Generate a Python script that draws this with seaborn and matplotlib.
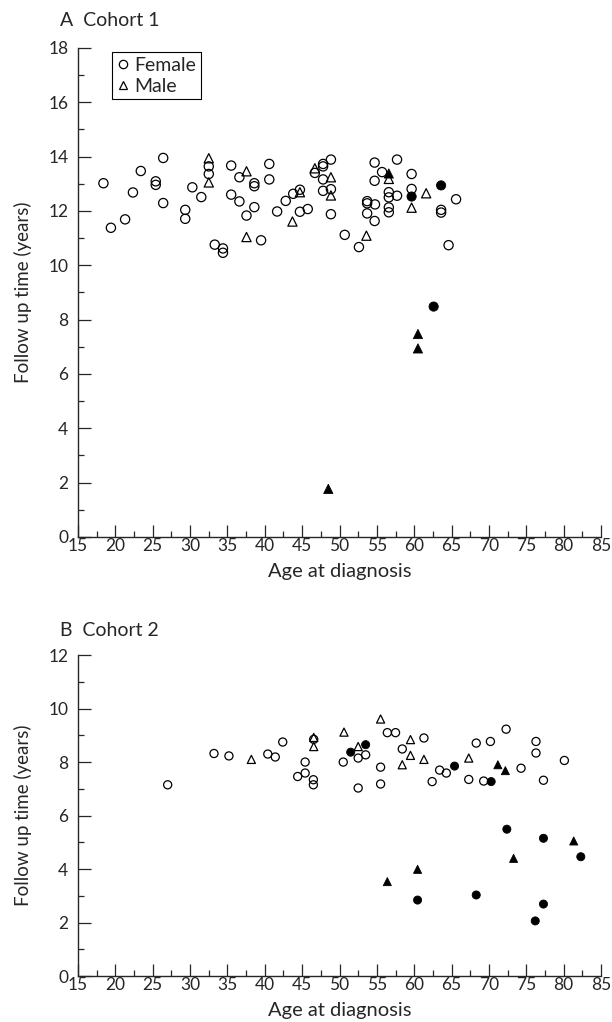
import matplotlib
matplotlib.use("Agg")
import matplotlib.pyplot as plt
from matplotlib.lines import Line2D
from matplotlib.ticker import MultipleLocator
import numpy as np
import pandas as pd
import seaborn as sns

# Cohort 1 - otwarte punkty (zyjacy)
a_fem_age = [18.4, 19.4, 21.3, 22.35, 23.4, 25.4, 25.4, 26.4, 26.4, 29.35, 29.35, 30.3, 31.5,
             32.5, 32.5, 33.3, 34.4, 34.4, 35.5, 35.5, 36.6, 36.6, 37.55, 38.6, 38.6, 38.6,
             39.5, 40.6, 40.6, 41.65, 42.8, 43.8, 44.7, 44.7, 45.75, 46.7, 47.8, 47.8, 47.8,
             47.8, 48.85, 48.85, 48.85, 50.7, 52.6, 53.7, 53.7, 53.7, 54.75, 54.7, 54.7, 54.7,
             55.7, 56.6, 56.6, 56.6, 56.6, 57.7, 57.7, 59.65, 59.65, 63.6, 63.6, 64.6, 65.6]
a_fem_fu = [13.02, 11.38, 11.69, 12.68, 13.47, 13.09, 12.96, 13.95, 12.29, 12.04, 11.71, 12.87, 12.51,
            13.64, 13.36, 10.76, 10.62, 10.46, 13.67, 12.6, 13.24, 12.35, 11.83, 13.02, 12.91, 12.14,
            10.92, 13.73, 13.16, 11.98, 12.37, 12.63, 12.78, 11.97, 12.07, 13.4, 13.73, 13.64, 13.16,
            12.74, 13.89, 12.8, 11.88, 11.12, 10.67, 12.36, 12.28, 11.91, 12.24, 13.78, 13.11, 11.63,
            13.43, 12.69, 12.5, 12.13, 11.95, 13.89, 12.56, 13.36, 12.81, 12.04, 11.94, 10.74, 12.43]
a_male_age = [32.5, 32.5, 37.55, 37.55, 43.7, 44.7, 46.7, 48.85, 48.85, 53.6, 56.6, 59.65, 61.6]
a_male_fu = [13.94, 13.05, 13.46, 11.04, 11.61, 12.69, 13.57, 13.24, 12.57, 11.09, 13.18, 12.12, 12.65]
# Cohort 1 - pelne punkty
a_fem_dead_age = [59.65, 63.6, 62.6]
a_fem_dead_fu = [12.53, 12.94, 8.48]
a_male_dead_age = [56.6, 60.5, 60.5, 48.5]
a_male_dead_fu = [13.38, 7.47, 6.94, 1.77]

# Cohort 2
b_fem_age = [27.0, 33.2, 35.2, 40.4, 41.4, 42.4, 44.4, 45.4, 45.4, 46.5, 46.5, 46.55, 50.5, 52.5,
             53.5, 52.5, 55.5, 55.5, 56.4, 57.5, 58.4, 61.3, 62.4, 63.4, 64.3, 67.3, 68.3, 69.3,
             70.2, 72.3, 74.3, 76.3, 76.3, 77.3, 80.1]
b_fem_fu = [7.15, 8.32, 8.23, 8.3, 8.19, 8.75, 7.46, 8.0, 7.59, 7.34, 7.15, 8.85, 8.0, 8.15,
            8.27, 7.03, 7.81, 7.18, 9.1, 9.1, 8.49, 8.9, 7.27, 7.7, 7.59, 7.35, 8.71, 7.29,
            8.77, 9.23, 7.77, 8.77, 8.34, 7.32, 8.06]
b_male_age = [38.2, 46.55, 46.55, 50.6, 52.5, 55.5, 59.5, 59.5, 58.4, 61.3, 67.3]
b_male_fu = [8.1, 8.92, 8.58, 9.12, 8.58, 9.61, 8.84, 8.25, 7.9, 8.1, 8.15]
b_fem_dead_age = [51.5, 53.5, 65.4, 70.3, 60.45, 68.3, 72.4, 77.3, 77.3, 76.2, 82.3]
b_fem_dead_fu = [8.37, 8.65, 7.85, 7.27, 2.84, 3.03, 5.49, 5.15, 2.69, 2.06, 4.46]
b_male_dead_age = [71.2, 72.2, 56.4, 60.45, 73.3, 81.35]
b_male_dead_fu = [7.9, 7.68, 3.53, 3.99, 4.4, 5.05]


def make_df(fa, ff, ma, mf, fda, fdf, mda, mdf):
    parts = [
        pd.DataFrame({'age': fa, 'fu': ff, 'sex': 'Female', 'dead': False}),
        pd.DataFrame({'age': ma, 'fu': mf, 'sex': 'Male', 'dead': False}),
        pd.DataFrame({'age': fda, 'fu': fdf, 'sex': 'Female', 'dead': True}),
        pd.DataFrame({'age': mda, 'fu': mdf, 'sex': 'Male', 'dead': True}),
    ]
    return pd.concat(parts, ignore_index=True)


df_a = make_df(a_fem_age, a_fem_fu, a_male_age, a_male_fu,
               a_fem_dead_age, a_fem_dead_fu, a_male_dead_age, a_male_dead_fu)
df_b = make_df(b_fem_age, b_fem_fu, b_male_age, b_male_fu,
               b_fem_dead_age, b_fem_dead_fu, b_male_dead_age, b_male_dead_fu)

sns.set_style("ticks")
plt.rcParams['font.family'] = ['Lato', 'DejaVu Sans']

markers = {'Female': 'o', 'Male': '^'}

fig = plt.figure(figsize=(6.12, 10.22), dpi=100)
ax_a = fig.add_axes([0.1275, 0.4746, 0.8545, 0.4785])
ax_b = fig.add_axes([0.1275, 0.045, 0.8545, 0.314])


def draw_panel(ax, df, ymax, size):
    op = df[~df['dead']]
    cl = df[df['dead']]
    sns.scatterplot(data=op, x='age', y='fu', style='sex', markers=markers, ax=ax,
                    s=size, facecolors='none', edgecolor='black', linewidth=0.9, legend=False)
    sns.scatterplot(data=cl, x='age', y='fu', style='sex', markers=markers, ax=ax,
                    s=size, color='black', edgecolor='black', linewidth=0.6, legend=False)
    ax.set_xlim(15, 85)
    ax.set_ylim(0, ymax)
    ax.xaxis.set_major_locator(MultipleLocator(5))
    ax.xaxis.set_minor_locator(MultipleLocator(2.5))
    ax.yaxis.set_major_locator(MultipleLocator(2))
    ax.yaxis.set_minor_locator(MultipleLocator(1))
    ax.tick_params(which='major', direction='in', length=9, width=0.9, labelsize=12.5, pad=1)
    ax.tick_params(which='minor', direction='in', length=4.5, width=0.9)
    ax.tick_params(axis='y', which='major', pad=7)
    for side in ['top', 'right']:
        ax.spines[side].set_visible(False)
    for side in ['left', 'bottom']:
        ax.spines[side].set_linewidth(1.0)
    ax.set_xlabel('Age at diagnosis', fontsize=14.5, labelpad=6)
    ax.set_ylabel('Follow up time (years)', fontsize=13.5, labelpad=12)


draw_panel(ax_a, df_a, 18, 44)
draw_panel(ax_b, df_b, 12, 34)

handles = [Line2D([], [], marker='o', ls='', markerfacecolor='none', markeredgecolor='black',
                  markersize=6, markeredgewidth=0.9),
           Line2D([], [], marker='^', ls='', markerfacecolor='none', markeredgecolor='black',
                  markersize=6, markeredgewidth=0.9)]
leg = ax_a.legend(handles, ['Female', 'Male'], loc='upper left', bbox_to_anchor=(0.065, 0.992),
                  borderaxespad=0, fontsize=14, handlelength=0.6, handletextpad=0.3,
                  borderpad=0.25, labelspacing=0.2, fancybox=False, framealpha=1)
leg.get_frame().set_edgecolor('black')
leg.get_frame().set_linewidth(0.8)

fig.text(60 / 612, 1 - 20 / 1022, 'A  Cohort 1', fontsize=14, va='center', ha='left')
fig.text(60 / 612, 1 - 630 / 1022, 'B  Cohort 2', fontsize=14, va='center', ha='left')

fig.savefig('out.png', dpi=100)
